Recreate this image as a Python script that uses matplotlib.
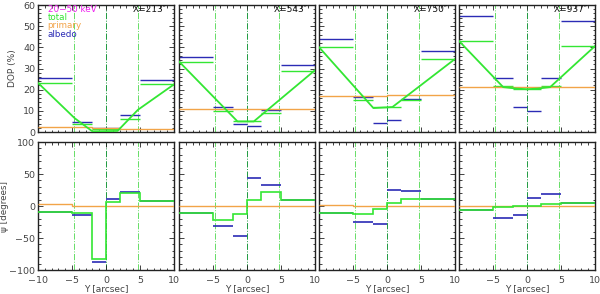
import matplotlib
matplotlib.use("Agg")
import matplotlib.pyplot as plt
from matplotlib.ticker import MultipleLocator
import numpy as np

# ---------------- data ----------------
bin_edges = [-10, -5, -2, 0, 2, 5, 10]
panel_labels = ["X=213\u2033", "X=543\u2033", "X=750\u2033", "X=937\u2033"]
source_lines = [-4.7, 0.0, 4.7]

dop_albedo = [
    [25.6, 4.9, 1.8, 1.8, 8.2, 24.7],
    [35.4, 11.6, 3.9, 2.6, 10.5, 31.8],
    [43.9, 16.3, 4.4, 5.5, 15.7, 38.5],
    [55.0, 25.6, 11.8, 9.7, 25.5, 52.4],
]
dop_total = [
    [23.1, 3.9, 1.2, 1.2, 6.3, 22.5],
    [33.2, 10.0, 5.0, 5.0, 9.0, 29.0],
    [40.1, 15.2, 11.6, 11.6, 15.2, 34.4],
    [43.0, 21.5, 20.5, 20.5, 21.5, 40.6],
]
dop_primary = [
    [2.4, 2.2, 2.0, 1.8, 1.6, 1.6],
    [11.0, 11.0, 11.0, 11.0, 11.0, 11.0],
    [16.8, 16.9, 17.1, 17.3, 17.5, 17.6],
    [21.2, 21.2, 21.2, 21.2, 21.2, 21.2],
]
curve_x = [
    [-10, -4.6, -2.0, 1.7, 4.7, 10],
    [-10, -1.4, 1.0, 10],
    [-10, -2.0, 0.8, 10],
    [-10, -3.5, -1.5, 0, 1.5, 3.4, 10],
]
curve_y = [
    [23.2, 6.5, 0.3, 0.5, 10.5, 22.5],
    [33.3, 5.0, 5.0, 29.2],
    [40.1, 11.3, 11.8, 34.5],
    [43.0, 21.2, 20.5, 20.2, 20.5, 21.2, 40.6],
]

psi_albedo = [
    [-9.0, -14.0, -88.0, 10.4, 22.3, 7.3],
    [-10.4, -31.0, -46.8, 43.0, 33.0, 9.9],
    [-10.4, -24.4, -27.5, 25.0, 22.9, 10.4],
    [-5.7, -18.0, -14.0, 12.0, 18.7, 5.2],
]
psi_total = [
    [-8.8, -11.4, -83.0, 6.8, 20.8, 7.3],
    [-10.4, -21.3, -12.5, 8.8, 21.8, 9.9],
    [-10.4, -13.0, -4.7, 4.7, 10.4, 10.4],
    [-5.7, -2.0, -0.5, 0.5, 2.6, 5.2],
]
psi_primary = [
    [3.5, 0.5, 0.5, 0.5, 0.5, 0.5],
    [0.0, 0.0, 0.0, 0.0, 0.0, 0.0],
    [1.6, -0.3, -0.3, -0.3, -0.3, -0.3],
    [-0.5, -0.5, -0.5, -0.5, -0.5, -0.5],
]

legend_texts = ["20\u221250 keV", "total", "primary", "albedo"]

# ---------------- style ----------------
BLUE = "#2b2bb5"
GREEN = "#33e633"
ORANGE = "#f2a448"
MAGENTA = "#ee22ee"
DKGREEN = "#1e9a40"
LTGREEN = "#66dd66"
TXT = "#444444"

plt.rcParams["font.family"] = ["DejaVu Sans"]
plt.rcParams["font.size"] = 6.5

fig = plt.figure(figsize=(6.0, 2.94), dpi=100)
W, H = 600.0, 294.0
lefts = [38, 179, 319, 459]
pw = 136
top_row = (5, 132)
bot_row = (142, 270)

edges = np.array(bin_edges)


def style_axis(ax, ymaj, ymin):
    ax.set_xlim(-10, 10)
    ax.xaxis.set_major_locator(MultipleLocator(5))
    ax.xaxis.set_minor_locator(MultipleLocator(1))
    ax.yaxis.set_major_locator(MultipleLocator(ymaj))
    ax.yaxis.set_minor_locator(MultipleLocator(ymin))
    ax.tick_params(which="both", direction="in", top=True, right=True,
                   colors="#222222", labelcolor=TXT, labelsize=6.8, width=0.6)
    ax.tick_params(which="major", length=3.5)
    ax.tick_params(axis="y", which="major", pad=2)
    ax.tick_params(axis="x", which="major", pad=4)
    ax.tick_params(which="minor", length=1.8)
    for s in ax.spines.values():
        s.set_linewidth(1.0)
        s.set_color("#222222")


for i in range(4):
    x0 = lefts[i] / W
    # ---- top row: DOP ----
    ax = fig.add_axes([x0, 1 - top_row[1] / H, pw / W, (top_row[1] - top_row[0]) / H])
    style_axis(ax, 10, 2)
    ax.set_ylim(0, 60)
    ax.axvline(source_lines[0], color=LTGREEN, ls="-.", lw=0.7, zorder=1)
    ax.axvline(source_lines[1], color=DKGREEN, ls="-.", lw=0.7, zorder=1)
    ax.axvline(source_lines[2], color=LTGREEN, ls="-.", lw=0.7, zorder=1)
    ax.hlines(dop_albedo[i], edges[:-1], edges[1:], color=BLUE, lw=1.0, zorder=2)
    ax.hlines(dop_total[i], edges[:-1], edges[1:], color=GREEN, lw=1.0, zorder=3)
    ax.stairs(dop_primary[i], edges, baseline=None, color=ORANGE, lw=1.0, zorder=3)
    ax.plot(curve_x[i], curve_y[i], color=GREEN, lw=1.3, zorder=4)
    ax.set_xticklabels([])
    if i == 0:
        ax.set_ylabel("DOP (%)", color=TXT, fontsize=6.5)
        ax.yaxis.set_label_coords(-0.155, 0.5)
        cols = [MAGENTA, GREEN, ORANGE, BLUE]
        ys = [0.965, 0.902, 0.835, 0.769]
        for t, c, yy in zip(legend_texts, cols, ys):
            ax.text(0.07, yy, t, color=c, transform=ax.transAxes,
                    ha="left", va="center", fontsize=6.3)
    else:
        ax.set_yticklabels([])
    ax.text(0.95, 0.965, panel_labels[i], transform=ax.transAxes,
            ha="right", va="center", fontsize=6.5, color="#111111")

    # ---- bottom row: psi ----
    ax2 = fig.add_axes([x0, 1 - bot_row[1] / H, pw / W, (bot_row[1] - bot_row[0]) / H])
    style_axis(ax2, 50, 10)
    ax2.set_ylim(-100, 100)
    ax2.axvline(source_lines[0], color=LTGREEN, ls="-.", lw=0.7, zorder=1)
    ax2.axvline(source_lines[1], color=DKGREEN, ls="-.", lw=0.7, zorder=1)
    ax2.axvline(source_lines[2], color=LTGREEN, ls="-.", lw=0.7, zorder=1)
    ax2.hlines(psi_albedo[i], edges[:-1], edges[1:], color=BLUE, lw=1.2, zorder=2)
    ax2.stairs(psi_primary[i], edges, baseline=None, color=ORANGE, lw=1.0, zorder=3)
    ax2.stairs(psi_total[i], edges, baseline=None, color=GREEN, lw=1.2, zorder=4)
    ax2.set_xlabel("Y [arcsec]", color=TXT, fontsize=6.5, labelpad=0)
    ax2.set_xticks([-10, -5, 0, 5, 10])
    if i == 0:
        ax2.set_xticklabels(["\u221210", "\u22125", "0", "5", "10"])
        ax2.set_ylabel("\u03c8 [degrees]", color=TXT, fontsize=6.3)
        ax2.yaxis.set_label_coords(-0.215, 0.5)
    else:
        ax2.set_xticklabels(["", "\u22125", "0", "5", "10"])
        ax2.set_yticklabels([])

fig.savefig("out.png", dpi=100)
